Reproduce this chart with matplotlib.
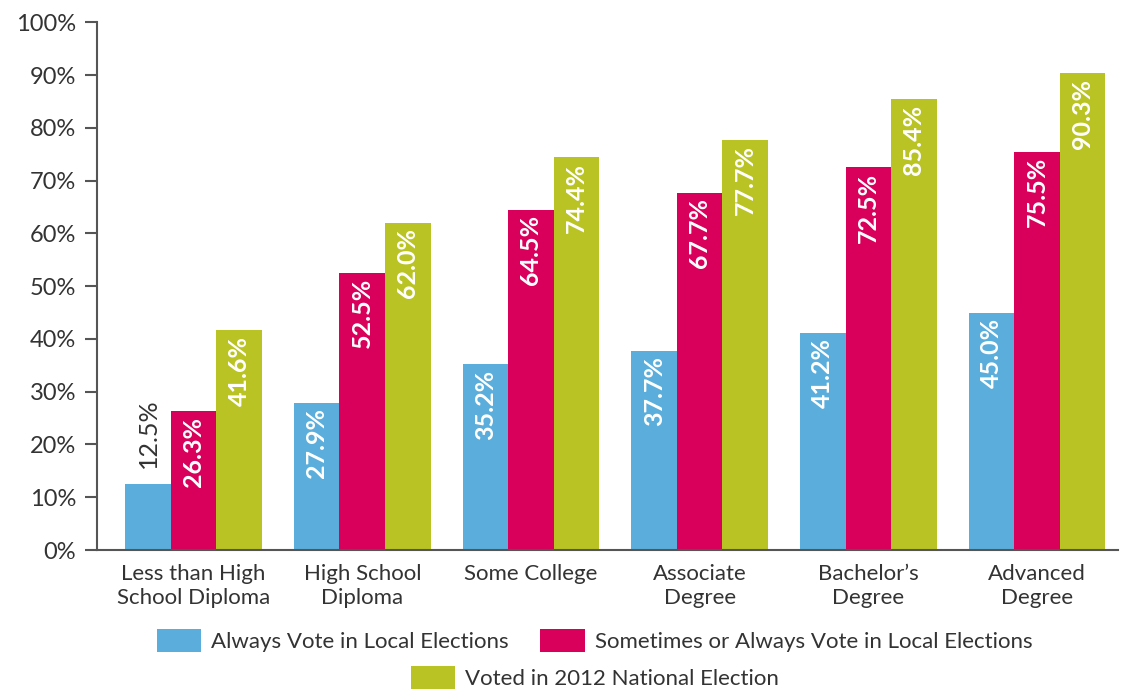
import matplotlib
matplotlib.use("Agg")
import matplotlib.pyplot as plt
import numpy as np

# data
categories = [
    "Less than High\nSchool Diploma",
    "High School\nDiploma",
    "Some College",
    "Associate\nDegree",
    "Bachelor\u2019s\nDegree",
    "Advanced\nDegree",
]
always_local = [12.5, 27.9, 35.2, 37.7, 41.2, 45.0]
sometimes_local = [26.3, 52.5, 64.5, 67.7, 72.5, 75.5]
voted_2012 = [41.6, 62.0, 74.4, 77.7, 85.4, 90.3]

series_names = [
    "Always Vote in Local Elections",
    "Sometimes or Always Vote in Local Elections",
    "Voted in 2012 National Election",
]
colors = ["#5BAEDC", "#D9005B", "#B9C424"]
text_color = "#333333"

plt.rcParams["font.family"] = ["Lato", "DejaVu Sans"]

fig = plt.figure(figsize=(11.22, 6.89), dpi=100)
ax = fig.add_axes([0.0865, 0.2017, 0.91, 0.766])

x = np.arange(len(categories))
width = 0.27
handles = []
for i, (vals, color, name) in enumerate(
    zip([always_local, sometimes_local, voted_2012], colors, series_names)
):
    pos = x + (i - 1) * width
    bars = ax.bar(pos, vals, width, color=color, label=name)
    handles.append(bars)
    for xp, v in zip(pos, vals):
        label = f"{v:.1f}%"
        if v < 20:
            # too short for the label, put it above the bar
            ax.text(xp, v + 3, label, rotation=90, ha="center", va="bottom",
                    color=text_color, fontsize=18)
        else:
            ax.text(xp, v - 1.0, label, rotation=90, ha="center", va="top",
                    color="white", fontsize=18, fontweight="bold")

ax.set_xlim(-0.572, 5.48)
ax.set_ylim(0, 100)
ax.set_yticks(np.arange(0, 101, 10))
ax.set_yticklabels([f"{t}%" for t in range(0, 101, 10)])
ax.set_xticks(x)
ax.set_xticklabels(categories, linespacing=1.25)

for side in ["top", "right"]:
    ax.spines[side].set_visible(False)
for side in ["left", "bottom"]:
    ax.spines[side].set_color("#555555")
    ax.spines[side].set_linewidth(1.5)

ax.tick_params(axis="y", length=9, width=1.5, color="#555555",
               labelsize=17, labelcolor=text_color, pad=6)
ax.tick_params(axis="x", length=0, labelsize=16, labelcolor=text_color, pad=10)

legend_kw = dict(loc="center", frameon=False, fontsize=16,
                 handlelength=2.0, handleheight=1.2, handletextpad=0.45,
                 labelcolor=text_color)
fig.legend(handles[:2], series_names[:2], bbox_to_anchor=(0.53, 0.07),
           ncol=2, columnspacing=1.4, **legend_kw)
fig.legend(handles[2:], series_names[2:], bbox_to_anchor=(0.53, 0.017),
           **legend_kw)

fig.savefig("out.png", dpi=100)
